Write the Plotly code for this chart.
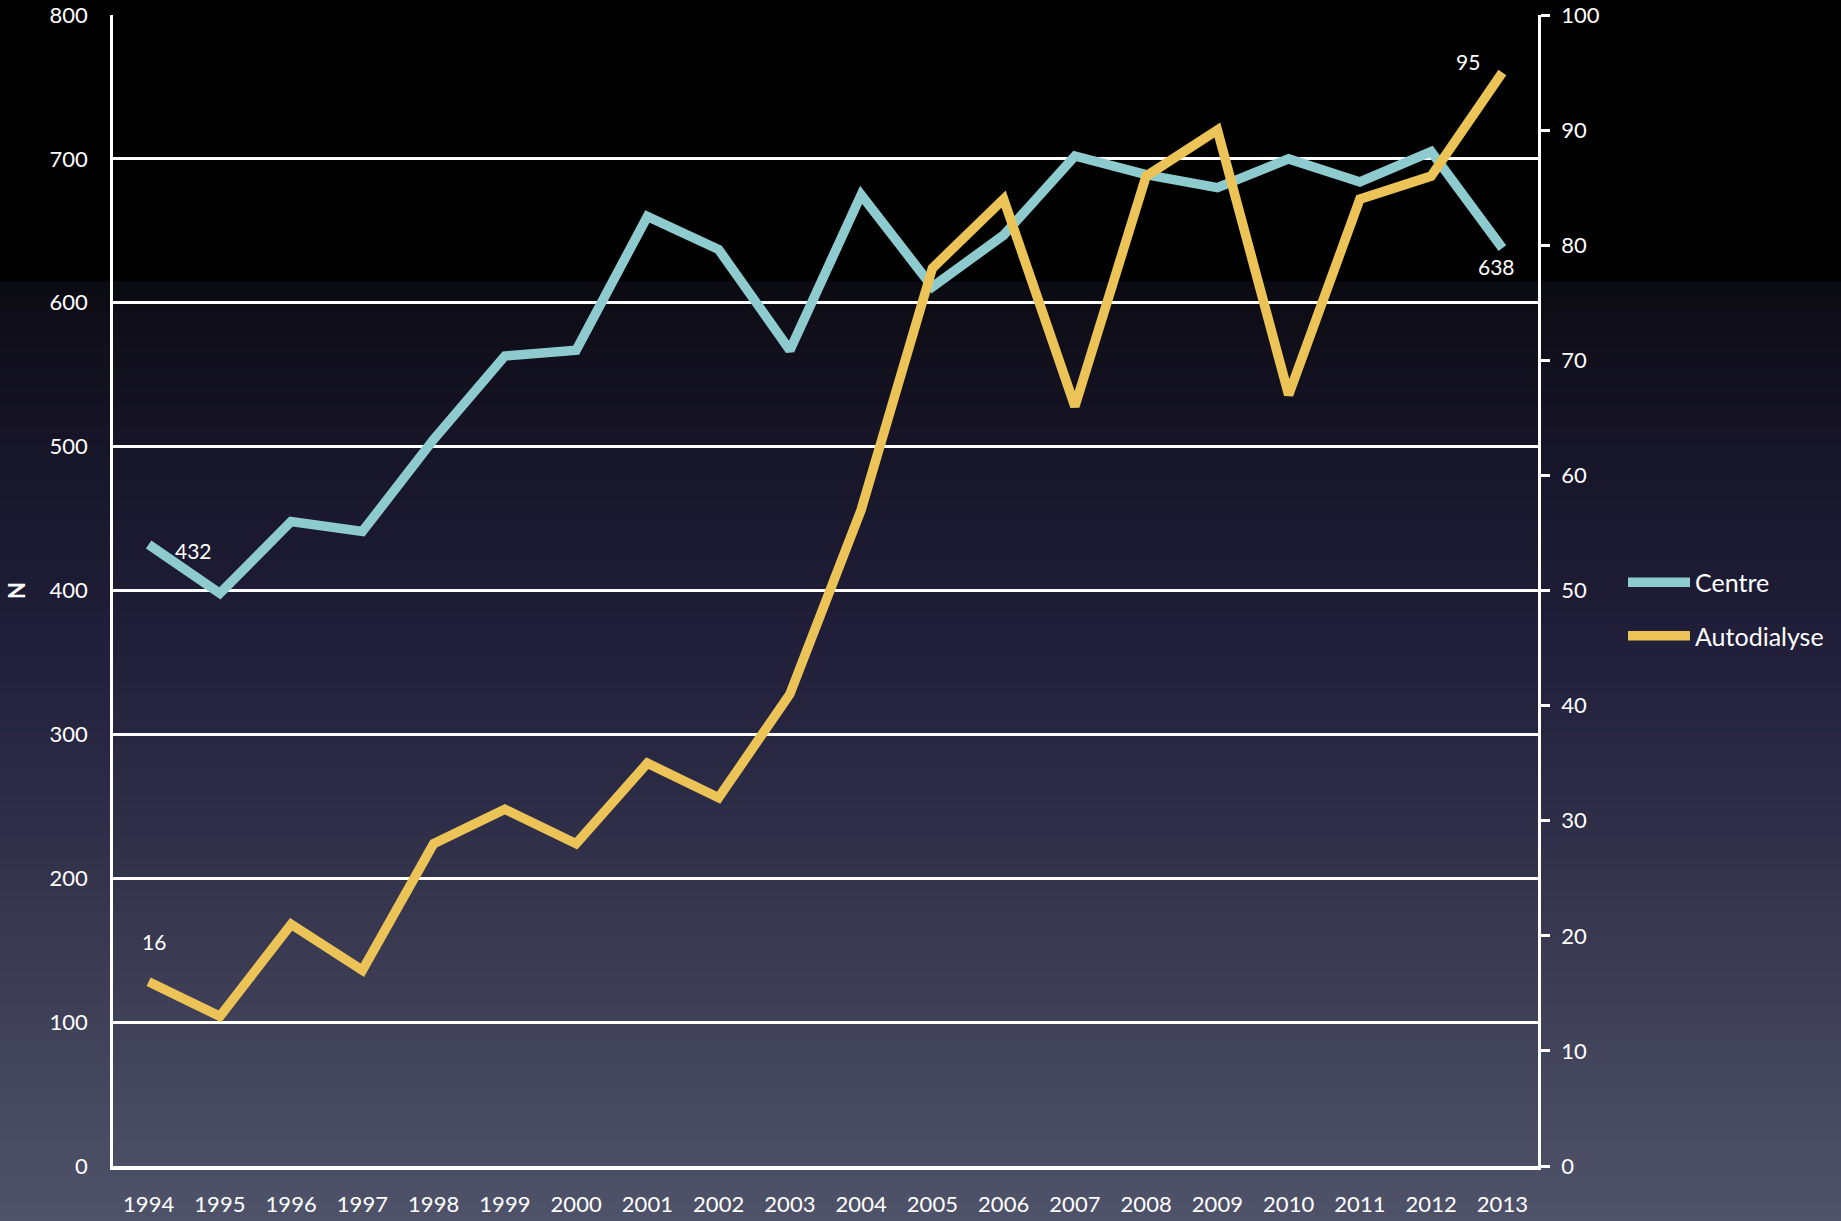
import base64
import struct
import zlib

import plotly.graph_objects as go

# ---------------- data ----------------
years = [str(y) for y in range(1994, 2014)]
centre = [432, 398, 448, 441, 505, 563, 567, 660, 637, 567,
          675, 611, 647, 702, 689, 680, 700, 684, 705, 638]
autodialyse = [16, 13, 21, 17, 28, 31, 28, 35, 32, 41,
               57, 78, 84, 66, 86, 90, 67, 84, 86, 95]
left_ticks = list(range(0, 801, 100))
right_ticks = list(range(0, 101, 10))

# ---------------- page geometry ----------------
W, H = 1841, 1221
ML, MR, MT, MB = 113, 303, 15, 55
PW, PH = W - ML - MR, H - MT - MB

# ---------------- background gradient (PNG built in memory) ----------------
stops = [
    (0, (0, 0, 0)), (279, (0, 0, 0)), (280, (2, 2, 14)), (282, (10, 10, 16)),
    (303, (14, 13, 22)), (450, (23, 21, 40)), (650, (33, 31, 58)),
    (800, (45, 44, 70)), (1000, (62, 63, 86)), (1221, (79, 83, 106)),
]


def colour_at(y):
    for (y0, c0), (y1, c1) in zip(stops, stops[1:]):
        if y0 <= y <= y1:
            t = 0 if y1 == y0 else (y - y0) / (y1 - y0)
            return tuple(int(round(a + (b - a) * t)) for a, b in zip(c0, c1))
    return stops[-1][1]


def make_png(width, height):
    raw = b''.join(b'\x00' + bytes(colour_at(y)) * width for y in range(height))

    def chunk(tag, data):
        c = struct.pack('>I', len(data)) + tag + data
        return c + struct.pack('>I', zlib.crc32(tag + data) & 0xffffffff)

    png = b'\x89PNG\r\n\x1a\n'
    png += chunk(b'IHDR', struct.pack('>IIBBBBB', width, height, 8, 2, 0, 0, 0))
    png += chunk(b'IDAT', zlib.compress(raw, 9))
    png += chunk(b'IEND', b'')
    return 'data:image/png;base64,' + base64.b64encode(png).decode()


bg = make_png(8, H)

FONT = 'Lato'
WHITE = '#ffffff'
TEAL = '#8ecbcf'
GOLD = '#ecc357'
TICKFONT = dict(family=FONT, size=22, color=WHITE)

fig = go.Figure()
fig.add_trace(go.Scatter(x=years, y=centre, name='Centre', mode='lines',
                         line=dict(color=TEAL, width=9.5), legendgroup='a'))
fig.add_trace(go.Scatter(x=years, y=autodialyse, name='Autodialyse', mode='lines',
                         line=dict(color=GOLD, width=9.5), yaxis='y2', legendgroup='b'))

last = len(years) - 1
annots = [
    dict(x=0, y=centre[0], yref='y', text=str(centre[0]), xshift=45, yshift=-6),
    dict(x=last, y=centre[-1], yref='y', text=str(centre[-1]), xshift=-6, yshift=-18),
    dict(x=0, y=autodialyse[0], yref='y2', text=str(autodialyse[0]), xshift=5, yshift=40),
    dict(x=last, y=autodialyse[-1], yref='y2', text=str(autodialyse[-1]), xshift=-34, yshift=11),
]
for a in annots:
    fig.add_annotation(xref='x', showarrow=False,
                       font=dict(family=FONT, size=21, color=WHITE), **a)

fig.update_layout(
    width=W, height=H,
    margin=dict(l=ML, r=MR, t=MT, b=MB, autoexpand=False),
    paper_bgcolor='#000000',
    plot_bgcolor='rgba(0,0,0,0)',
    font=dict(family=FONT, color=WHITE, size=20),
    images=[dict(source=bg, xref='paper', yref='paper',
                 x=-ML / PW, y=1 + MT / PH, sizex=W / PW, sizey=H / PH,
                 xanchor='left', yanchor='top', sizing='stretch', layer='below')],
    xaxis=dict(type='category', range=[-0.5, len(years) - 0.5],
               showline=True, linecolor=WHITE, linewidth=3.5,
               showgrid=False, ticks='', ticklabelstandoff=16,
               tickfont=TICKFONT),
    yaxis=dict(range=[0, 800], tickvals=left_ticks, showgrid=True,
               gridcolor=WHITE, gridwidth=2.5, zeroline=False,
               showline=True, linecolor=WHITE, linewidth=2.5, ticks='',
               ticklabelstandoff=18, tickfont=TICKFONT,
               title=dict(text='<b>N</b>', standoff=18,
                          font=dict(family=FONT, size=22, color=WHITE))),
    yaxis2=dict(range=[0, 100], tickvals=right_ticks, overlaying='y', side='right',
                showgrid=False, zeroline=False, showline=True, linecolor=WHITE,
                linewidth=2.5, ticks='outside', ticklen=9, tickwidth=2.5,
                tickcolor=WHITE, ticklabelstandoff=7, tickfont=TICKFONT),
    legend=dict(x=(1623 - ML) / PW, y=(H - MB - 609) / PH, xanchor='left', yanchor='middle',
                bgcolor='rgba(0,0,0,0)', font=dict(family=FONT, size=25, color=WHITE),
                itemwidth=62, tracegroupgap=18, traceorder='grouped'),
    showlegend=True,
)

fig.write_html('out.html', config={'displayModeBar': False},
               post_script="document.body.style.margin='0';document.body.style.overflow='hidden';")
